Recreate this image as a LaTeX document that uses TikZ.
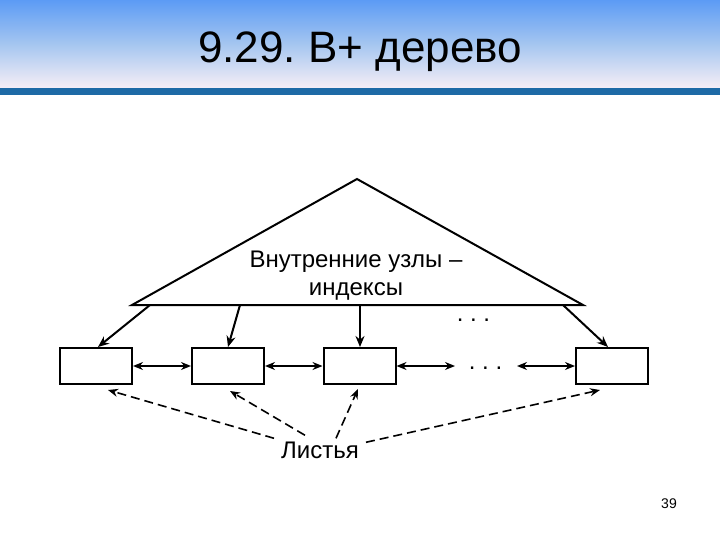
\documentclass[tikz,border=0pt]{standalone}
\usepackage{fontspec}
\setmainfont{Liberation Sans}
\usetikzlibrary{calc,arrows.meta}

\definecolor{barblue}{RGB}{30,106,166}
\definecolor{skytop}{RGB}{92,155,245}
\definecolor{skymid}{RGB}{165,198,240}
\definecolor{skylow}{RGB}{246,238,246}

\begin{document}
\frenchspacing
\begin{tikzpicture}[x=1pt,y=-1pt,
    leafbox/.style={draw, line width=2pt, minimum width=72pt, minimum height=36pt, inner sep=0pt},
    ptr/.style={line width=2pt, -{Stealth[length=11pt,width=9pt]}},
    link/.style={line width=1.6pt, {Stealth[length=10pt,width=8pt]}-{Stealth[length=10pt,width=8pt]}},
    leafptr/.style={line width=1.6pt, dash pattern=on 9pt off 5pt, -{Stealth[length=10pt,width=8pt]}}]
    \useasboundingbox (0,0) rectangle (720,540);

    % title bar
    \shade[top color=skytop, bottom color=skylow, middle color=skymid] (0,0) rectangle (720,88);
    \fill[barblue] (0,88) rectangle (720,95);
    \node[font=\fontsize{44}{48}\selectfont, anchor=base, inner sep=0pt] (title) at (360,63) {9.29. B+ дерево};

    % inner nodes
    \coordinate (apex) at (357,179);
    \coordinate (lc) at (132,305);
    \coordinate (rc) at (583,305);
    \draw[line width=2pt, line join=miter] (lc) -- (apex) -- (rc) -- cycle;
    \node[font=\fontsize{24}{28}\selectfont, align=center] (index) at (356,276) {Внутренние узлы –\\индексы};
    \node[font=\fontsize{24}{28}\selectfont, anchor=base, inner sep=0pt] (dotsup) at (473.5,321) {. . .};

    % leaves
    \node[leafbox] (b1) at (96,366) {};
    \node[leafbox] (b2) at (228,366) {};
    \node[leafbox] (b3) at (359.5,366) {};
    \node[leafbox] (b4) at (612,366) {};
    \node[font=\fontsize{24}{28}\selectfont, anchor=base, inner sep=0pt] (dotsdown) at (485.5,369) {. . .};
    \coordinate (gapl) at (455,366);
    \coordinate (gapr) at (517,366);

    % pointers down
    \coordinate (t1) at (150,305);
    \coordinate (t2) at (240,305);
    \coordinate (t3) at (360,305);
    \coordinate (t4) at (563,305);
    \draw[ptr] (t1) -- ($(b1.north)+(2,0)$);
    \draw[ptr] (t2) -- (b2.north);
    \draw[ptr] (t3) -- (b3.north -| t3);
    \draw[ptr] (t4) -- ($(b4.north)+(-4,0)$);

    % sibling links
    \draw[link] (b1) -- (b2);
    \draw[link] (b2) -- (b3);
    \draw[link] (b3) -- (gapl);
    \draw[link] (gapr) -- (b4);

    \node[font=\fontsize{24}{28}\selectfont, anchor=base, inner sep=0pt] (leaves) at (320,458) {Листья};
    \draw[leafptr] ($(leaves.north)+(-46,-3)$) -- ($(b1.south)+(12,5)$);
    \draw[leafptr] ($(leaves.north)+(-15,-6)$) -- ($(b2.south)+(2,6)$);
    \draw[leafptr] ($(leaves.north)+(16,-3)$) -- ($(b3.south)+(-1.5,4)$);
    \draw[leafptr] ($(leaves.north)+(46,1)$) -- ($(b4.south)+(-12,5)$);

    \node[font=\fontsize{14}{16}\selectfont] (page) at (669,504) {39};
\end{tikzpicture}
\end{document}
